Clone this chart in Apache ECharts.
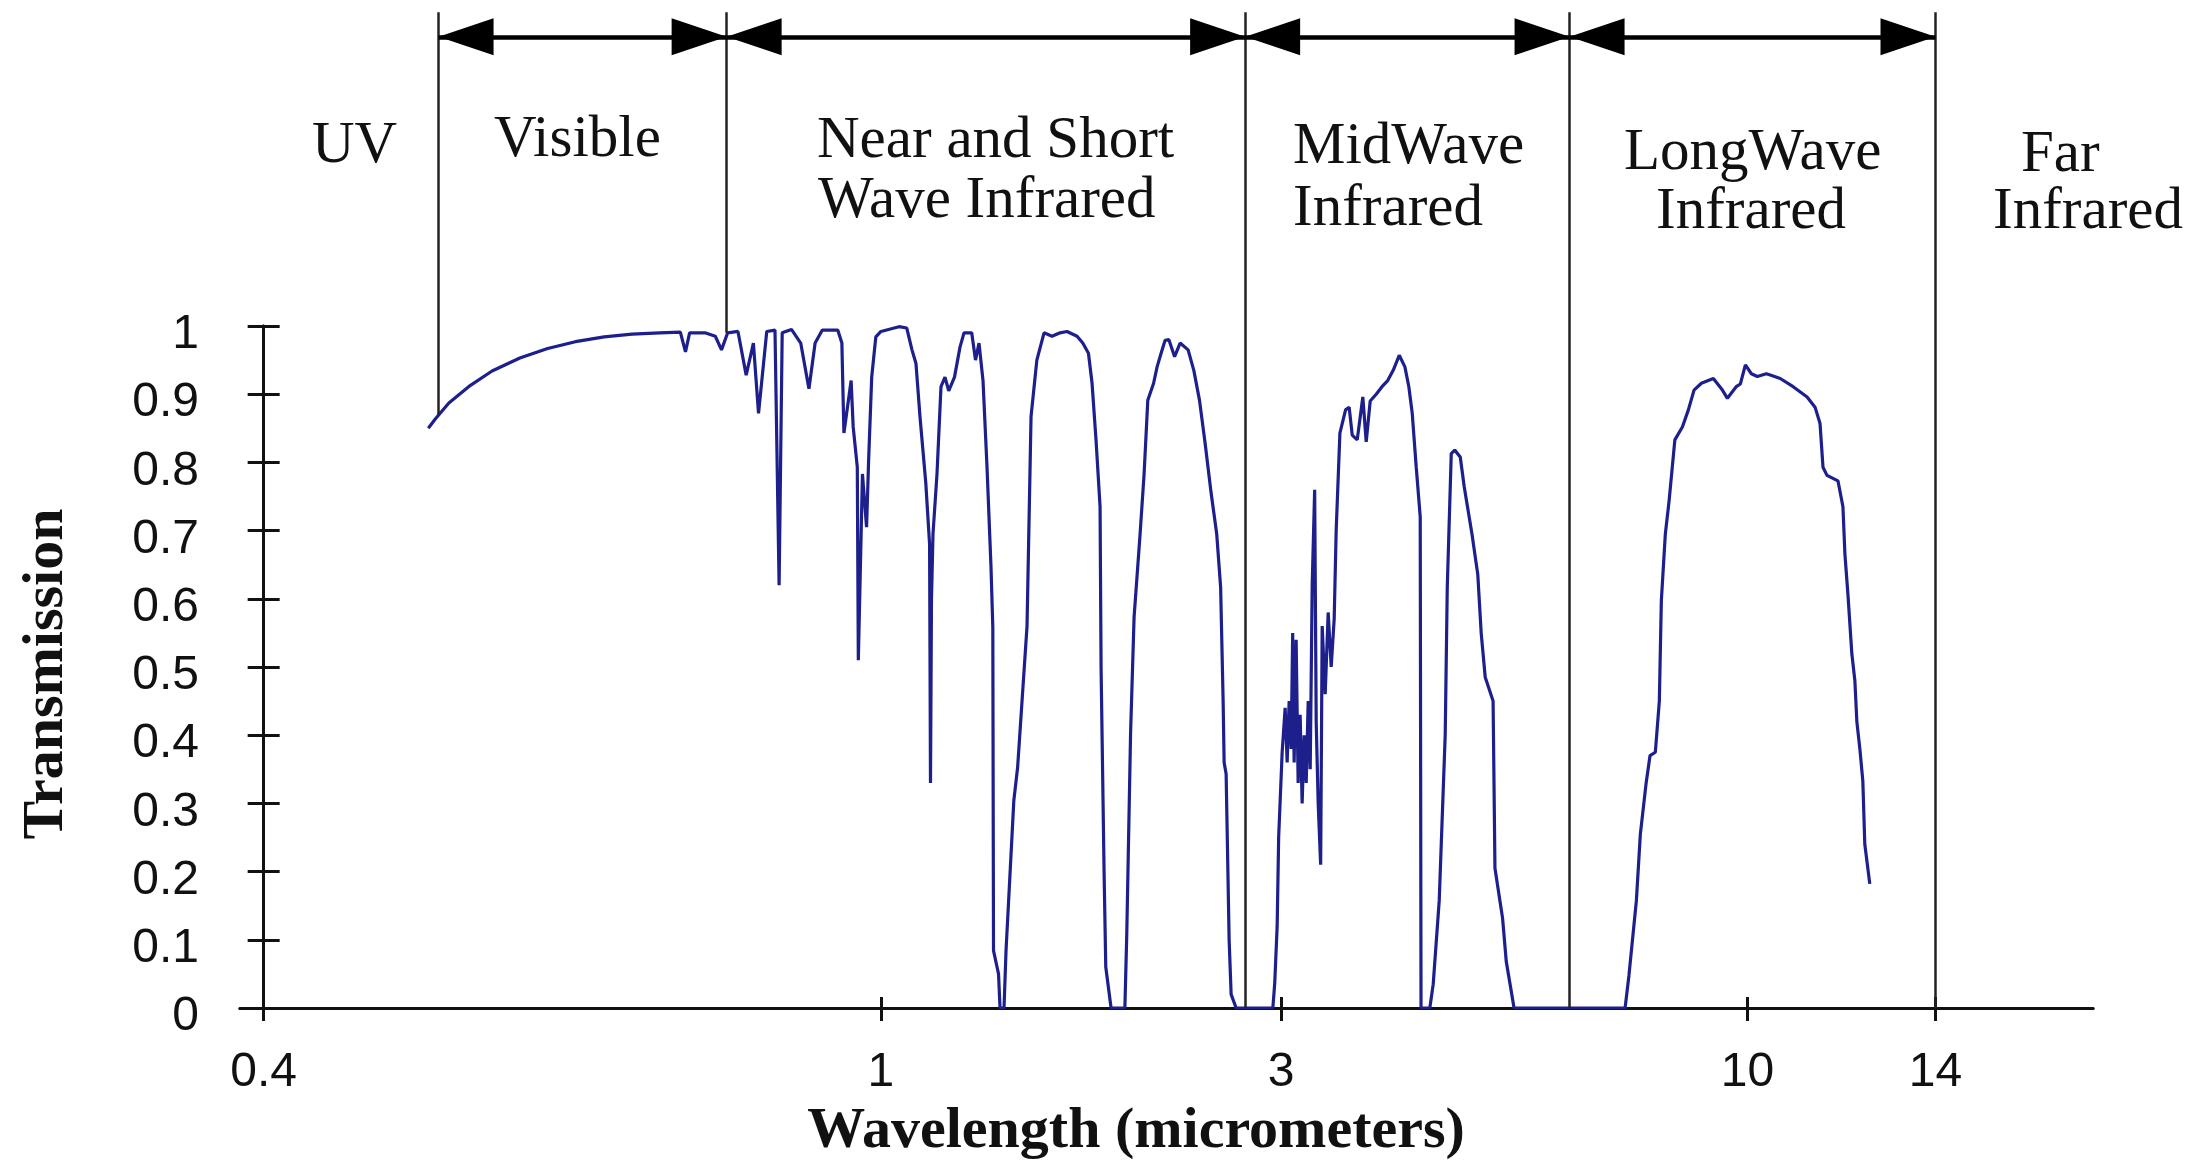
<!DOCTYPE html>
<html>
<head>
<meta charset="utf-8">
<title>Atmospheric transmission</title>
<script src="https://cdn.jsdelivr.net/npm/echarts@6/dist/echarts.min.js"></script>
<style>
  html, body { margin: 0; padding: 0; background: #fff; }
  #chart { width: 2203px; height: 1162px; }
</style>
</head>
<body>
<div id="chart"></div>
<script>
// samples: wavelength (micrometers) and transmission
const wavelengthUm = [
  0.56, 0.567, 0.58, 0.601, 0.622, 0.649, 0.676, 0.703, 0.731, 0.758, 0.785, 0.805, 0.81, 0.814, 0.829,
  0.839, 0.845, 0.851, 0.861, 0.869, 0.876, 0.881, 0.889, 0.897, 0.901, 0.904, 0.913, 0.922, 0.93, 0.936,
  0.943, 0.958, 0.962, 0.964, 0.971, 0.973, 0.977, 0.978, 0.982, 0.986, 0.988, 0.991, 0.995, 1.0,
  1.09, 1.129, 1.155, 1.175, 1.195, 1.224, 1.243, 1.2475, 1.2525, 1.26, 1.28, 1.3, 1.32, 1.3385, 1.3675,
  1.395, 1.415, 1.4535, 1.4725, 1.49, 1.51, 1.53, 1.55, 1.559, 1.5625, 1.5875, 1.595, 1.615, 1.625, 1.664,
  1.683, 1.705, 1.73, 1.75, 1.779, 1.815, 1.855, 1.895, 1.93, 1.98, 2.0085, 2.037, 2.055, 2.075, 2.095,
  2.1, 2.115, 2.1235, 2.15, 2.219, 2.2285, 2.2475, 2.265, 2.295, 2.315, 2.3335, 2.3625, 2.38, 2.4, 2.42,
  2.439, 2.4675, 2.495, 2.535, 2.5635, 2.592, 2.62, 2.65, 2.678, 2.6975, 2.71, 2.715, 2.725, 2.74, 2.75,
  2.775, 2.9585, 2.968, 2.98, 2.9875,
  3.015, 3.06, 3.09, 3.12, 3.15, 3.173, 3.195, 3.225, 3.255, 3.285, 3.315, 3.345, 3.376, 3.406, 3.436,
  3.466, 3.503, 3.526, 3.556, 3.593, 3.616, 3.661, 3.706, 3.751, 3.796, 3.826, 3.882, 3.967, 4.021, 4.067,
  4.142, 4.226, 4.277, 4.337, 4.427, 4.514, 4.6, 4.682, 4.773, 4.858, 4.917, 4.968, 5.028, 5.088, 5.1,
  5.232, 5.283, 5.373, 5.463, 5.494, 5.554, 5.606, 5.689, 5.749, 5.865, 5.922, 5.952, 6.004, 6.064, 6.182,
  6.21, 6.324, 6.38, 6.497, 8.164, 8.221, 8.333, 8.393, 8.48, 8.538, 8.618, 8.678, 8.708, 8.768, 8.825,
  8.911, 9.024, 9.114, 9.199, 9.309, 9.489, 9.625, 9.7, 9.832, 9.895, 9.97,
  10.085, 10.212, 10.402, 10.487, 10.698, 10.974, 11.27, 11.439, 11.545, 11.608, 11.693, 11.926, 12.032,
  12.074, 12.138, 12.222, 12.286, 12.328, 12.392, 12.455, 12.497, 12.603
];
const transmission = [
  0.85, 0.864, 0.887, 0.913, 0.934, 0.953, 0.967, 0.977, 0.984, 0.988, 0.99, 0.991, 0.962, 0.99, 0.99,
  0.985, 0.965, 0.99, 0.992, 0.928, 0.975, 0.872, 0.992, 0.994, 0.62, 0.99, 0.995, 0.975, 0.908, 0.975,
  0.994, 0.994, 0.975, 0.843, 0.92, 0.852, 0.793, 0.51, 0.783, 0.705, 0.803, 0.925, 0.984, 0.992,
  0.999, 0.997, 0.965, 0.945, 0.867, 0.77, 0.68, 0.33, 0.6, 0.695, 0.783, 0.911, 0.925, 0.905, 0.925,
  0.969, 0.99, 0.99, 0.95, 0.975, 0.92, 0.793, 0.646, 0.558, 0.084, 0.05, 0, 0, 0.084, 0.304,
  0.353, 0.45, 0.56, 0.867, 0.95, 0.99, 0.985, 0.99, 0.992, 0.985, 0.975, 0.96, 0.916, 0.832, 0.735,
  0.5, 0.2, 0.06, 0, 0, 0.109, 0.403, 0.573, 0.695, 0.783, 0.891, 0.916, 0.94, 0.96, 0.979,
  0.98, 0.955, 0.975, 0.965, 0.935, 0.891, 0.828, 0.755, 0.695, 0.617, 0.45, 0.36, 0.343, 0.1, 0.02,
  0, 0, 0.037, 0.12, 0.25,
  0.375, 0.44, 0.36, 0.45, 0.38, 0.55, 0.36, 0.54, 0.33, 0.43, 0.3, 0.4, 0.33, 0.45, 0.35,
  0.62, 0.76, 0.42, 0.3, 0.21, 0.56, 0.46, 0.58, 0.5, 0.57, 0.7, 0.843, 0.877, 0.881, 0.84,
  0.833, 0.896, 0.83, 0.89, 0.9, 0.911, 0.92, 0.935, 0.957, 0.94, 0.911, 0.872, 0.793, 0.72, 0,
  0, 0.035, 0.157, 0.4, 0.617, 0.813, 0.818, 0.808, 0.764, 0.695, 0.656, 0.636, 0.549, 0.485, 0.45,
  0.205, 0.132, 0.068, 0, 0, 0.047, 0.157, 0.255, 0.33, 0.37, 0.375, 0.45, 0.597, 0.695, 0.744,
  0.833, 0.852, 0.877, 0.906, 0.916, 0.923, 0.906, 0.894, 0.911, 0.915, 0.943,
  0.93, 0.926, 0.93, 0.928, 0.923, 0.911, 0.896, 0.881, 0.857, 0.793, 0.781, 0.773, 0.735,
  0.666, 0.607, 0.519, 0.48, 0.42, 0.38, 0.333, 0.24, 0.182
];

const tickUm = [0.4, 1, 3, 10, 14];
const tickLabels = ['0.4', '1', '3', '10', '14'];

const bandNames = ['UV', 'Visible', 'Near and Short\nWave Infrared', 'MidWave\nInfrared', 'LongWave\nInfrared', 'Far\nInfrared'];
const bandEdgesUm = [0.57, 0.85, 2.82, 7.33, 14];
// transmission level where each divider stops (top of it is the arrow row)
const edgeFoot = [0.87, 0.99, 0, 0, 0];

// the wavelength axis is schematic: each tick interval has its own length
const tickPos = [0, 617, 1017, 1483, 1671];
const axisEndsUm = [0.377, 17.35];
const topMax = 1.46;      // y range of the annotation grid, in transmission units
const arrowLevel = 1.424;
const headSize = [37, 55];

// left edge / middle of every text line of the band names
const bandLabelSpots = [
  [[312, 146]],
  [[494, 140]],
  [[817, 141], [818, 201]],
  [[1293, 147], [1293, 209]],
  [[1624, 153], [1656, 212]],
  [[2021, 155], [1993, 212]],
];

function toPos(w) {
  let i = 0;
  while (i < tickUm.length - 2 && w > tickUm[i + 1]) i++;
  const t = (w - tickUm[i]) / (tickUm[i + 1] - tickUm[i]);
  return tickPos[i] + t * (tickPos[i + 1] - tickPos[i]);
}

const xMin = toPos(axisEndsUm[0]);
const xMax = toPos(axisEndsUm[1]);
const tickAt = tickUm.map(toPos);
const ink = '#111';
const curveColor = '#1c1f8c';
const sans = '"Liberation Sans", Arial, sans-serif';
const serif = '"Liberation Serif", "Times New Roman", serif';

const chart = echarts.init(document.getElementById('chart'));

const graphic = [];
bandNames.forEach((name, i) => {
  name.split('\n').forEach((line, j) => {
    const [x, y] = bandLabelSpots[i][j];
    graphic.push({
      type: 'text', x, y, silent: true,
      style: { text: line, font: `59px ${serif}`, fill: ink, align: 'left', verticalAlign: 'middle', textAlign: 'left', textVerticalAlign: 'middle' },
    });
  });
});
graphic.push({
  type: 'text', x: 1136, y: 1132, silent: true,
  style: { text: 'Wavelength (micrometers)', font: `bold 58px ${serif}`, fill: ink, align: 'center', verticalAlign: 'middle', textAlign: 'center', textVerticalAlign: 'middle' },
});
graphic.push({
  type: 'text', x: 47, y: 674, rotation: Math.PI / 2, silent: true,
  style: { text: 'Transmission', font: `bold 58px ${serif}`, fill: ink, align: 'center', verticalAlign: 'middle', textAlign: 'center', textVerticalAlign: 'middle' },
});

// arrow heads: one at each end of every band arrow, tip on the divider
const heads = [];
for (let i = 0; i < bandEdgesUm.length - 1; i++) {
  heads.push({ value: [toPos(bandEdgesUm[i]), arrowLevel], symbolRotate: 90, symbolOffset: [headSize[1] / 2, 0] });
  heads.push({ value: [toPos(bandEdgesUm[i + 1]), arrowLevel], symbolRotate: -90, symbolOffset: [-headSize[1] / 2, 0] });
}

const axisLine = { lineStyle: { color: ink, width: 3 } };
const tickStyle = { color: ink, width: 3 };

chart.setOption({
  animation: false,
  backgroundColor: '#fff',
  grid: [
    { left: 240, right: 110, top: 326, bottom: 154 },
    { left: 240, right: 110, top: 326 - (topMax - 1) * 682, bottom: 154 },
  ],
  xAxis: [
    {
      gridIndex: 0, type: 'value', min: xMin, max: xMax, position: 'bottom',
      axisLine: { ...axisLine, onZero: false },
      splitLine: { show: false },
      axisTick: { customValues: tickAt, length: 13, lineStyle: tickStyle },
      axisLabel: {
        customValues: tickAt, margin: 41, fontSize: 48, fontFamily: sans, color: ink,
        formatter: v => tickLabels[tickAt.findIndex(p => Math.abs(p - v) < 1e-6)] || '',
      },
    },
    {
      // same line again, ticks pointing up
      gridIndex: 0, type: 'value', min: xMin, max: xMax, position: 'top',
      axisLine: { ...axisLine, onZero: true, onZeroAxisIndex: 0 },
      splitLine: { show: false },
      axisTick: { customValues: tickAt, length: 11, lineStyle: tickStyle },
      axisLabel: { show: false },
    },
    { gridIndex: 1, type: 'value', min: xMin, max: xMax, show: false },
  ],
  yAxis: [
    {
      gridIndex: 0, type: 'value', min: 0, max: 1, interval: 0.1, position: 'left',
      axisLine: { ...axisLine, show: true, onZero: true, onZeroAxisIndex: 0 },
      splitLine: { show: false },
      axisTick: { length: 16, lineStyle: tickStyle },
      // labels sit a little below their ticks in the original
      axisLabel: { margin: 41, fontSize: 48, fontFamily: sans, color: ink, verticalAlign: 'top', lineHeight: 18 },
    },
    {
      gridIndex: 0, type: 'value', min: 0, max: 1, interval: 0.1, position: 'right',
      axisLine: { ...axisLine, show: true, onZero: true, onZeroAxisIndex: 0 },
      splitLine: { show: false },
      axisTick: { length: 16, lineStyle: tickStyle },
      axisLabel: { show: false },
    },
    { gridIndex: 1, type: 'value', min: 0, max: topMax, show: false },
  ],
  graphic,
  series: [
    {
      name: 'Transmission',
      type: 'line',
      xAxisIndex: 0, yAxisIndex: 0,
      showSymbol: false,
      symbol: 'none',
      lineStyle: { color: curveColor, width: 3.2 },
      data: wavelengthUm.map((w, i) => [toPos(w), transmission[i]]),
      z: 3,
    },
    {
      name: 'Band edges',
      type: 'line',
      xAxisIndex: 2, yAxisIndex: 2,
      data: [],
      markLine: {
        silent: true,
        symbol: ['none', 'none'],
        label: { show: false },
        lineStyle: { color: '#222', width: 2.5, type: 'solid' },
        data: bandEdgesUm.map((w, i) => [
          { coord: [toPos(w), edgeFoot[i]] },
          { coord: [toPos(w), topMax] },
        ]),
      },
    },
    {
      name: 'Band arrows',
      type: 'line',
      xAxisIndex: 2, yAxisIndex: 2,
      data: [],
      markLine: {
        silent: true,
        symbol: ['none', 'none'],
        label: { show: false },
        lineStyle: { color: '#000', width: 4.5, type: 'solid' },
        data: bandEdgesUm.slice(1).map((w, i) => [
          { coord: [toPos(bandEdgesUm[i]), arrowLevel] },
          { coord: [toPos(w), arrowLevel] },
        ]),
      },
    },
    {
      name: 'Arrow heads',
      type: 'scatter',
      xAxisIndex: 2, yAxisIndex: 2,
      symbol: 'triangle',
      symbolSize: headSize,
      itemStyle: { color: '#000', opacity: 1 },
      silent: true,
      data: heads,
      z: 4,
    },
  ],
});
</script>
</body>
</html>
